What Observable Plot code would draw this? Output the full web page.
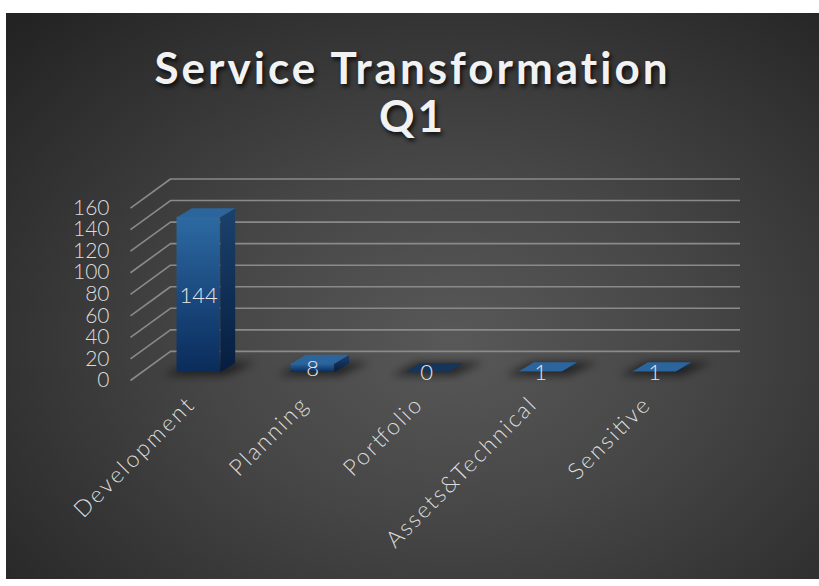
<!DOCTYPE html>
<html>
<head>
<meta charset="utf-8">
<script src="https://cdn.jsdelivr.net/npm/d3@7"></script>
<script src="https://cdn.jsdelivr.net/npm/@observablehq/plot@0.6"></script>
<style>
  html, body { margin: 0; padding: 0; background: #ffffff; }
  #wrap { position: relative; width: 819px; height: 586px; overflow: hidden; }
  #panel { position: absolute; left: 6px; top: 13px; width: 813px; height: 566px;
    background: radial-gradient(ellipse 75% 80% at 55% 58%, #585858 0%, #464646 40%, #2c2c2c 85%, #232323 100%); }
  #title { position: absolute; left: 6px; width: 813px; top: 43px; text-align: center;
    font-family: Lato, "DejaVu Sans", sans-serif; font-weight: 700; font-size: 44px; line-height: 48px;
    letter-spacing: 3px; color: #f2f2f2; text-shadow: 2px 3px 4px rgba(0,0,0,0.75); }
  #chart { position: absolute; left: 0; top: 0; }
</style>
</head>
<body>
<div id="wrap">
  <div id="panel"></div>
  <div id="title">Service Transformation<br>Q1</div>
  <div id="chart"></div>
</div>
<script>
// ---- data ----
const categories = ["Development", "Planning", "Portfolio", "Assets&Technical", "Sensitive"];
const values = [144, 8, 0, 1, 1];
const yTicks = [0, 20, 40, 60, 80, 100, 120, 140, 160];

// ---- oblique "3D" geometry expressed in data units ----
const DX = 0.3509, DY = 27;          // full floor depth offset (x in category units, y in value units)
const d0 = 0.28;                     // bar front position within the depth
const e0x = d0 * DX, e0y = d0 * DY;
const hw = 0.19;                     // half bar width
const bdx = 0.13, bdy = 8.4;         // bar depth

const bars = categories.map((c, i) => {
  const xl = i + 0.5 - hw + e0x, xr = i + 0.5 + hw + e0x;
  return {c, i, v: values[i], xl, xr, yb: e0y, yt: values[i] + e0y};
});
const tops = bars.flatMap(b => [
  {id: b.i, x: b.xl, y: b.yt}, {id: b.i, x: b.xr, y: b.yt},
  {id: b.i, x: b.xr + bdx, y: b.yt + bdy}, {id: b.i, x: b.xl + bdx, y: b.yt + bdy}
]);
const sides = bars.filter(b => b.v > 0).flatMap(b => [
  {id: b.i, x: b.xr, y: b.yb}, {id: b.i, x: b.xr, y: b.yt},
  {id: b.i, x: b.xr + bdx, y: b.yt + bdy}, {id: b.i, x: b.xr + bdx, y: b.yb + bdy}
]);
const shadows = bars.flatMap(b => [
  {id: b.i, x: b.xl - 0.12, y: b.yb - 3}, {id: b.i, x: b.xr + 0.05, y: b.yb - 3},
  {id: b.i, x: b.xr + bdx + 0.18, y: b.yb + bdy + 1}, {id: b.i, x: b.xl + bdx - 0.02, y: b.yb + bdy + 1}
]);
const valueTop = bars.filter(b => b.v > 0);

const grid = "#8a8a8a";
const font = "Lato, 'DejaVu Sans', sans-serif";
const plot = Plot.plot({
  width: 819, height: 586,
  margin: 0,
  style: {background: "transparent", overflow: "visible"},
  x: {type: "linear", domain: [0, 5], range: [130, 700], axis: null},
  y: {type: "linear", domain: [0, 160], range: [380, 207.6], axis: null},
  marks: [
    // back wall gridlines
    Plot.ruleY(yTicks, {y: d => d + DY, x1: DX, x2: 5 + DX, stroke: grid, strokeWidth: 1.6}),
    // side wall diagonals
    Plot.link(yTicks, {x1: 0, y1: d => d, x2: DX, y2: d => d + DY, stroke: grid, strokeWidth: 1.6}),
    // y tick labels
    Plot.text(yTicks, {x: 0, y: d => d, text: d => String(d), dx: -21, textAnchor: "end",
      fill: "#dcdcdc", fontSize: 21, fontFamily: font, fontWeight: 300}),
    // floor shadows
    Plot.line(shadows, {x: "x", y: "y", z: "id", fill: "#000", fillOpacity: 0.55, stroke: "none",
      curve: "linear-closed"}),
    // bar faces
    Plot.rect(valueTop, {x1: "xl", x2: "xr", y1: "yb", y2: "yt", fill: "url(#gFront)"}),
    Plot.line(sides, {x: "x", y: "y", z: "id", fill: "url(#gSide)", stroke: "none", curve: "linear-closed"}),
    Plot.line(tops.filter(d => values[d.id] > 0), {x: "x", y: "y", z: "id", fill: "#2c659c", stroke: "none", curve: "linear-closed"}),
    Plot.line(tops.filter(d => values[d.id] === 0), {x: "x", y: "y", z: "id", fill: "#15355a", stroke: "none", curve: "linear-closed"}),
    // value labels
    Plot.text(bars, {x: d => (d.xl + d.xr) / 2, y: d => d.v / 2 + e0y, text: d => String(d.v),
      fill: "#e6e6e6", fontSize: 22, fontFamily: font, fontWeight: 300, dy: 1}),
    // category labels
    Plot.text(bars, {x: d => d.i + 0.52, y: -20, text: "c", rotate: -45, textAnchor: "end",
      fill: "#dcdcdc", fontSize: 23, fontFamily: font, fontWeight: 300})
  ]
});

// gradient & blur definitions (styling only)
const ns = "http://www.w3.org/2000/svg";
const defs = document.createElementNS(ns, "defs");
defs.innerHTML = `
  <linearGradient id="gFront" x1="0" y1="0" x2="0" y2="1">
    <stop offset="0" stop-color="#2d6aa2"/><stop offset="0.5" stop-color="#1b4a80"/><stop offset="1" stop-color="#0a2c5b"/>
  </linearGradient>
  <linearGradient id="gSide" x1="0" y1="0" x2="0" y2="1">
    <stop offset="0" stop-color="#1b426d"/><stop offset="1" stop-color="#061d40"/>
  </linearGradient>
  <filter id="blur" x="-50%" y="-50%" width="200%" height="200%"><feGaussianBlur stdDeviation="4"/></filter>`;
plot.insertBefore(defs, plot.firstChild);
document.getElementById("chart").appendChild(plot);

// styling: blur the floor shadows (first black-filled path group), widen category label spacing (Century-Gothic-like width)
plot.querySelectorAll("path").forEach(p => { if (p.getAttribute("fill") === "#000") p.setAttribute("filter", "url(#blur)"); });
plot.querySelectorAll('g path[fill="#000"]').forEach(p => p.setAttribute("filter", "url(#blur)"));
plot.querySelectorAll("g").forEach(g => { if (g.getAttribute("fill") === "#000") g.setAttribute("filter", "url(#blur)"); });
plot.querySelectorAll("text").forEach(t => {
  if (categories.includes(t.textContent)) {
    const len = t.getComputedTextLength();
    t.setAttribute("textLength", (len * 1.18).toFixed(1));
    t.setAttribute("lengthAdjust", "spacing");
  }
});
</script>
</body>
</html>
